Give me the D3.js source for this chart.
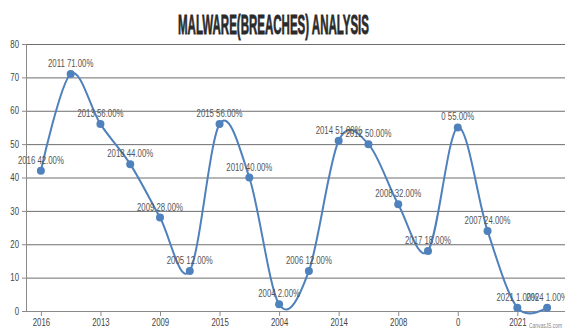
<!DOCTYPE html>
<html><head><meta charset="utf-8">
<script src="https://cdn.jsdelivr.net/npm/d3@7"></script>
<style>body{margin:0;background:#fff}svg{display:block}</style>
</head><body>
<svg id="c" width="565" height="335"></svg>
<script>
const labels = ["2016","2011","2013","2018","2009","2005","2015","2010","2004","2006","2014","2012","2008","2017","0","2007","2021","2024"];
const values = [42,71,56,44,28,12,56,40,2,12,51,50,32,18,55,24,1,1];
const yTicks = [0,10,20,30,40,50,60,70,80];
const title = "MALWARE(BREACHES) ANALYSIS";

const svg = d3.select("#c");
const W = 565, H = 335;
const x = d3.scaleLinear().domain([-0.5, 17.5]).range([26, 562]);
const y = d3.scaleLinear().domain([0, 80]).range([311, 44]);
const data = values.map((v,i)=>({i, v, label: labels[i]}));
const narrow = sel => sel.each(function(){ const l=this.getComputedTextLength(); d3.select(this).attr("textLength", l*0.78).attr("lengthAdjust","spacingAndGlyphs"); });

// title
svg.append("text").attr("x", 273.5).attr("y", 34).attr("text-anchor","middle")
  .attr("font-family","'Liberation Sans','DejaVu Sans',sans-serif")
  .attr("font-weight","bold").attr("font-size",28).attr("fill","#2b2b2b")
  .attr("stroke","#2b2b2b").attr("stroke-width",0.8)
  .attr("textLength",191).attr("lengthAdjust","spacingAndGlyphs")
  .text(title);

// gridlines
svg.append("g").selectAll("line").data(yTicks.filter(d=>d>0)).join("line")
  .attr("x1",26).attr("x2",W).attr("y1",d=>y(d)+0.5).attr("y2",d=>y(d)+0.5)
  .attr("stroke","#6e6e6e").attr("stroke-width",1);

// y axis
const ya = svg.append("g").attr("transform","translate(26,0)")
  .call(d3.axisLeft(y).tickValues(yTicks).tickSize(4).tickPadding(3));
ya.select(".domain").attr("stroke","#8a8a8a").attr("d","M0.5,44V311.5");
ya.selectAll(".tick line").attr("stroke","#8a8a8a");
ya.selectAll("text").attr("font-family","'Liberation Sans',sans-serif").attr("font-size",10).attr("fill","#444").call(narrow);

// x axis
const xa = svg.append("g").attr("transform","translate(0,311)")
  .call(d3.axisBottom(x).tickValues(d3.range(0,18,2)).tickFormat(i=>labels[i]).tickSize(5).tickPadding(3));
xa.select(".domain").attr("stroke","#8a8a8a").attr("d","M26,0.5H"+W);
xa.selectAll(".tick line").attr("stroke","#8a8a8a");
xa.selectAll("text").attr("font-family","'Liberation Sans',sans-serif").attr("font-size",10).attr("fill","#444").call(narrow);

// spline
const line = d3.line().x(d=>x(d.i)).y(d=>y(d.v)).curve(d3.curveCardinal.tension(0));
svg.append("path").datum(data).attr("d",line).attr("fill","none")
  .attr("stroke","#4F81BC").attr("stroke-width",2);

// markers
svg.append("g").selectAll("circle").data(data).join("circle")
  .attr("cx",d=>x(d.i)).attr("cy",d=>y(d.v)).attr("r",4).attr("fill","#4F81BC");

// index labels
svg.append("g").selectAll("text").data(data).join("text")
  .attr("x",d=>x(d.i)).attr("y",d=>y(d.v)-7).attr("text-anchor","middle")
  .attr("font-family","'Liberation Sans',sans-serif").attr("font-size",10).attr("fill","#555")
  .text(d=>d.label+" "+d.v.toFixed(2)+"%").call(narrow);

// credit
svg.append("text").attr("x",562).attr("y",328).attr("text-anchor","end")
  .attr("font-family","'Liberation Sans',sans-serif").attr("font-size",7).attr("fill","#888")
  .attr("textLength",33).attr("lengthAdjust","spacingAndGlyphs")
  .text("CanvasJS.com");
</script>
</body></html>
